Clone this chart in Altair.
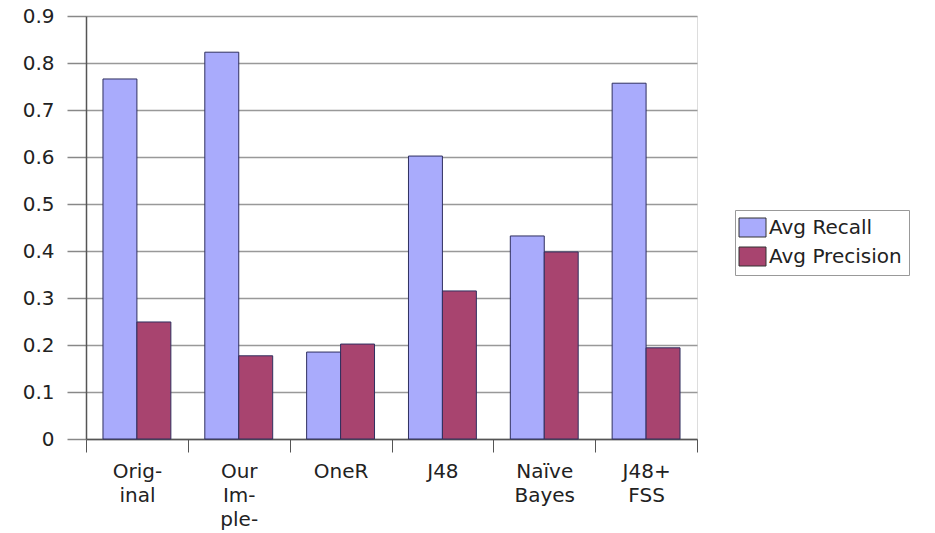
import altair as alt
import pandas as pd

categories = ["Orig-|inal", "Our|Im-|ple-", "OneR", "J48", "Naïve|Bayes", "J48+|FSS"]
series = ["Avg Recall", "Avg Precision"]
avg_recall = [0.766, 0.823, 0.185, 0.602, 0.432, 0.757]
avg_precision = [0.249, 0.177, 0.202, 0.315, 0.398, 0.194]
y_ticks = [0, 0.1, 0.2, 0.3, 0.4, 0.5, 0.6, 0.7, 0.8, 0.9]
colors = ["#a9abfc", "#a8446f"]

rows = []
for c, r, p in zip(categories, avg_recall, avg_precision):
    rows.append({"cat": c, "series": series[0], "value": r})
    rows.append({"cat": c, "series": series[1], "value": p})
df = pd.DataFrame(rows)

FONT = "DejaVu Sans"

chart = alt.Chart(df).mark_bar(stroke="#2f2f5f", strokeWidth=1).encode(
    x=alt.X("cat:N", sort=categories, title=None,
            scale=alt.Scale(paddingInner=0, paddingOuter=0),
            axis=alt.Axis(labelExpr="split(datum.label, '|')", labelAngle=0,
                          labelFont=FONT, labelFontSize=20, labelColor="#222",
                          labelLineHeight=24, labelPadding=9, labelBaseline="top",
                          tickBand="extent", tickSize=13, tickColor="#555",
                          domainColor="#555", domainWidth=1.5, grid=False)),
    xOffset=alt.XOffset("series:N", sort=series,
                        scale=alt.Scale(paddingOuter=0.5, paddingInner=0)),
    y=alt.Y("value:Q", title=None,
            scale=alt.Scale(domain=[0, 0.9], nice=False),
            axis=alt.Axis(values=y_ticks, format=".1~f", labelFont=FONT,
                          labelFontSize=20, labelColor="#222", labelPadding=13,
                          tickSize=19, tickColor="#888", tickWidth=1.5,
                          domainColor="#555", domainWidth=1.5,
                          grid=True, gridColor="#999", gridWidth=1.5)),
    color=alt.Color("series:N", sort=series,
                    scale=alt.Scale(domain=series, range=colors),
                    legend=alt.Legend(title=None, orient="none", legendX=649, legendY=194,
                                      labelFont=FONT, labelFontSize=20, labelColor="#222",
                                      symbolType="M-1.35,-0.95H1.35V0.95H-1.35Z",
                                      symbolSize=400, symbolStrokeColor="#333",
                                      symbolStrokeWidth=1, rowPadding=6,
                                      strokeColor="#999", padding=7, labelOffset=6)),
).properties(
    width=611, height=423,
    autosize=alt.AutoSizeParams(type="none"),
    padding={"left": 86, "top": 16, "right": 238, "bottom": 94},
).configure_view(stroke=None).configure(background="white")

chart.save("out.html", embed_options={"renderer": "svg", "actions": False})
